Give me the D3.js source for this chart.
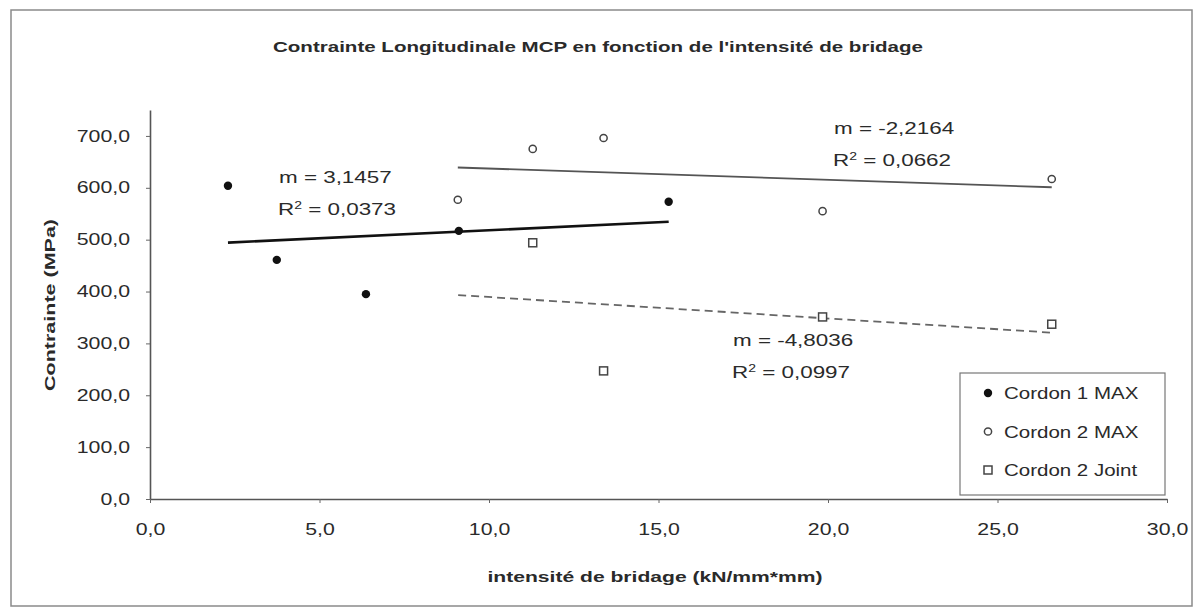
<!DOCTYPE html>
<html><head><meta charset="utf-8">
<script src="https://cdn.jsdelivr.net/npm/d3@7"></script>
<style>
html,body{margin:0;padding:0;background:#fff;}
svg{display:block;font-family:"Liberation Sans",Arial,sans-serif;}
</style></head>
<body>
<svg id="chart" width="1202" height="609"></svg>
<script>
// ---- data ----
const seriesNames = ["Cordon 1 MAX", "Cordon 2 MAX", "Cordon 2 Joint"];
const c1x = [2.3, 3.74, 6.37, 9.11, 15.3];
const c1y = [604, 461, 395, 517, 573];
const c2x = [9.08, 11.29, 13.38, 19.84, 26.6];
const c2y = [577, 675, 696, 555, 617];
const cjx = [11.29, 13.38, 19.84, 26.6];
const cjy = [494, 247, 351, 337];
const trendBackward = [0, 0, 2.2];
const slopeLabels = ["m = 3,1457", "m = -2,2164", "m = -4,8036"];
const r2Labels = ["0,0373", "0,0662", "0,0997"];
const xTicks = [0, 5, 10, 15, 20, 25, 30];
const yTicks = [0, 100, 200, 300, 400, 500, 600, 700];
const titleText = "Contrainte Longitudinale MCP en fonction de l'intensité de bridage";
const xTitle = "intensité de bridage (kN/mm*mm)";
const yTitle = "Contrainte (MPa)";

const svg = d3.select("#chart");
const ink = "#2a2a2a";
const x = d3.scaleLinear().domain([0, 30]).range([150, 1167]);
const y = d3.scaleLinear().domain([0, 750]).range([499, 110]);
const fmt = d => d3.format(".1f")(d).replace(".", ",");

// horizontal glyph stretch (the reference text is wide)
function stretch(sel, k) {
  sel.each(function () {
    const w = this.getComputedTextLength();
    d3.select(this).attr("textLength", w * k).attr("lengthAdjust", "spacingAndGlyphs");
  });
}
function stretchTo(sel, w) {
  sel.attr("textLength", w).attr("lengthAdjust", "spacingAndGlyphs");
}

// outer frame
svg.append("rect").attr("x", 11).attr("y", 10).attr("width", 1181).attr("height", 596)
  .attr("fill", "#fff").attr("stroke", "#8a8a8a").attr("stroke-width", 1.5);

// title
stretchTo(svg.append("text").attr("x", 598).attr("y", 52).attr("text-anchor", "middle")
  .attr("font-size", 15).attr("font-weight", "bold").attr("fill", ink).text(titleText), 650);

// axes
const yAxis = svg.append("g").attr("transform", `translate(${x(0)},0)`)
  .call(d3.axisLeft(y).tickValues(yTicks).tickFormat(fmt).tickSize(4).tickSizeOuter(0).tickPadding(16));
const xAxis = svg.append("g").attr("transform", `translate(0,${y(0)})`)
  .call(d3.axisBottom(x).tickValues(xTicks).tickFormat(fmt).tickSize(4).tickSizeOuter(0).tickPadding(21));
[yAxis, xAxis].forEach(g => {
  g.selectAll("path.domain").attr("stroke", "#555").attr("stroke-width", 1.6);
  g.selectAll(".tick line").attr("stroke", "#666");
  g.selectAll("text").attr("font-size", 16).attr("fill", ink)
    .attr("font-family", "'Liberation Sans',Arial,sans-serif");
  stretch(g.selectAll("text"), 1.33);
});

// axis titles
stretchTo(svg.append("text").attr("x", 655).attr("y", 582).attr("text-anchor", "middle")
  .attr("font-size", 15).attr("font-weight", "bold").attr("fill", ink).text(xTitle), 335);
stretchTo(svg.append("text").attr("transform", "translate(55,305) rotate(-90)").attr("text-anchor", "middle")
  .attr("font-size", 15).attr("font-weight", "bold").attr("fill", ink).text(yTitle), 172);

// trendlines (least squares)
function fit(xs, ys) {
  const mx = d3.mean(xs), my = d3.mean(ys);
  let sxy = 0, sxx = 0;
  xs.forEach((v, i) => { sxy += (v - mx) * (ys[i] - my); sxx += (v - mx) * (v - mx); });
  const m = sxy / sxx;
  return { m, b: my - m * mx };
}
const series = [[c1x, c1y], [c2x, c2y], [cjx, cjy]];
const trendStyles = [
  { stroke: "#111", width: 2.6, dash: null },
  { stroke: "#555", width: 1.8, dash: null },
  { stroke: "#666", width: 1.8, dash: "8,5" }
];
series.forEach(([xs, ys], i) => {
  const f = fit(xs, ys);
  const x0 = d3.min(xs) - trendBackward[i], x1 = d3.max(xs);
  const line = d3.line().x(d => x(d)).y(d => y(f.m * d + f.b));
  svg.append("path").attr("d", line([x0, x1])).attr("fill", "none")
    .attr("stroke", trendStyles[i].stroke).attr("stroke-width", trendStyles[i].width)
    .attr("stroke-dasharray", trendStyles[i].dash);
});

// markers
function marker(g, type, cx, cy) {
  if (type === 0) g.append("circle").attr("cx", cx).attr("cy", cy).attr("r", 4.2).attr("fill", "#111");
  else if (type === 1) g.append("circle").attr("cx", cx).attr("cy", cy).attr("r", 3.6)
    .attr("fill", "#fff").attr("stroke", "#444").attr("stroke-width", 1.5);
  else g.append("rect").attr("x", cx - 4).attr("y", cy - 4).attr("width", 8).attr("height", 8)
    .attr("fill", "#fff").attr("stroke", "#444").attr("stroke-width", 1.5);
}
const pts = svg.append("g");
series.forEach(([xs, ys], i) => xs.forEach((v, j) => marker(pts, i, x(v), y(ys[j]))));

// regression labels
const labelPos = [[279, 183], [834, 134], [733, 346]];
labelPos.forEach(([lx, ly], i) => {
  const a = svg.append("text").attr("x", lx).attr("y", ly).attr("font-size", 16).attr("fill", ink).text(slopeLabels[i]);
  stretch(a, 1.4);
  const t = svg.append("text").attr("x", lx - 1).attr("y", ly + 32).attr("font-size", 16).attr("fill", ink);
  t.append("tspan").text("R");
  t.append("tspan").attr("dy", -6).attr("font-size", 10).text("2");
  t.append("tspan").attr("dy", 6).text(" = " + r2Labels[i]);
  stretch(t, 1.4);
});

// legend
const lg = svg.append("g");
lg.append("rect").attr("x", 960).attr("y", 373).attr("width", 205).attr("height", 122)
  .attr("fill", "#fff").attr("stroke", "#777").attr("stroke-width", 1.2);
seriesNames.forEach((n, i) => {
  const ly = 393 + i * 38.5;
  marker(lg, i, 988, ly);
  const t = lg.append("text").attr("x", 1004).attr("y", ly + 6).attr("font-size", 16).attr("fill", ink).text(n);
  stretch(t, 1.28);
});
</script>
</body></html>
